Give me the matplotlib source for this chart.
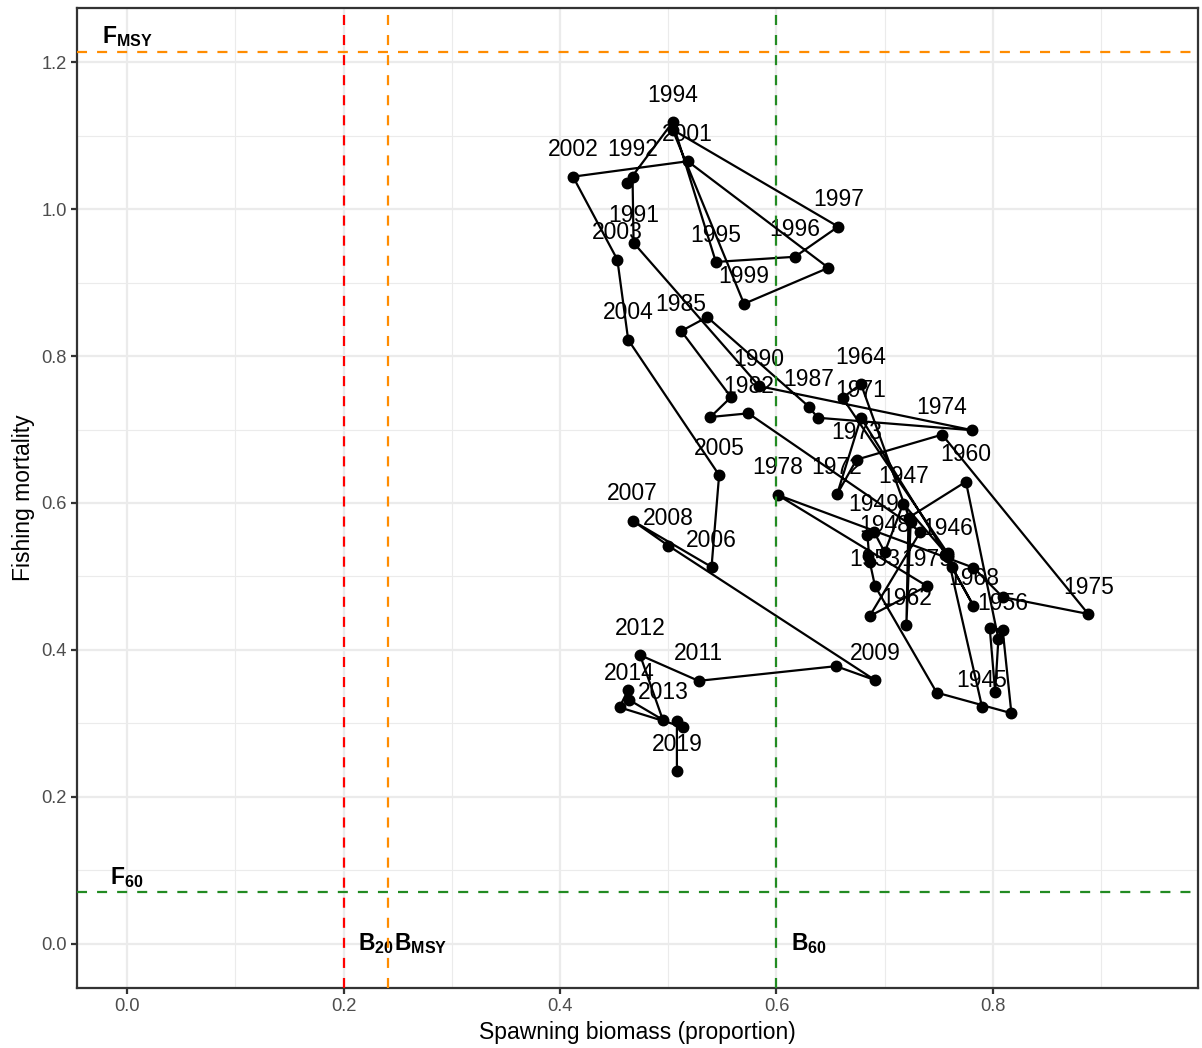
import matplotlib.pyplot as plt

# Stock trajectory: spawning biomass (proportion of unfished) vs fishing mortality
years = list(range(1945, 2020))
biomass = [
    0.790, 0.758, 0.717, 0.700, 0.690, 0.684, 0.686, 0.685, 0.691, 0.748,  # 1945-1954
    0.817, 0.809, 0.797, 0.802, 0.805, 0.775, 0.722, 0.720, 0.724, 0.678,  # 1955-1964
    0.661, 0.758, 0.756, 0.782, 0.762, 0.758, 0.678, 0.656, 0.674, 0.753,  # 1965-1974
    0.888, 0.809, 0.782, 0.601, 0.739, 0.686, 0.733, 0.574, 0.539, 0.558,  # 1975-1984
    0.512, 0.536, 0.630, 0.638, 0.781, 0.584, 0.468, 0.467, 0.462, 0.504,  # 1985-1994
    0.544, 0.617, 0.657, 0.504, 0.570, 0.648, 0.518, 0.412, 0.453, 0.463,  # 1995-2004
    0.547, 0.540, 0.467, 0.500, 0.691, 0.655, 0.528, 0.474, 0.495, 0.464,  # 2005-2014
    0.463, 0.455, 0.514, 0.508, 0.508,                                      # 2015-2019
]
fmort = [
    0.322, 0.529, 0.599, 0.533, 0.561, 0.557, 0.520, 0.528, 0.487, 0.342,
    0.314, 0.427, 0.430, 0.343, 0.415, 0.629, 0.580, 0.434, 0.574, 0.762,
    0.743, 0.532, 0.529, 0.460, 0.513, 0.527, 0.716, 0.612, 0.659, 0.693,
    0.449, 0.472, 0.512, 0.611, 0.487, 0.446, 0.561, 0.722, 0.717, 0.744,
    0.834, 0.853, 0.731, 0.716, 0.699, 0.759, 0.954, 1.044, 1.035, 1.118,
    0.928, 0.935, 0.976, 1.108, 0.871, 0.920, 1.065, 1.044, 0.931, 0.822,
    0.638, 0.513, 0.576, 0.542, 0.359, 0.378, 0.358, 0.393, 0.305, 0.332,
    0.346, 0.322, 0.295, 0.303, 0.235,
]
# years whose labels are printed (the rest would overlap earlier labels)
labelled_years = [
    1945, 1946, 1947, 1948, 1949, 1953, 1956, 1960, 1962, 1964, 1968,
    1971, 1972, 1973, 1974, 1975, 1978, 1979, 1982, 1985, 1987, 1990,
    1991, 1992, 1994, 1995, 1996, 1997, 1999, 2001, 2002, 2003, 2004,
    2005, 2006, 2007, 2008, 2009, 2011, 2012, 2013, 2014, 2019,
]

# reference points
F_MSY = 1.214
F_60 = 0.071
B_20 = 0.2
B_MSY = 0.241
B_60 = 0.6

plt.rcParams['font.family'] = 'Liberation Sans'
plt.rcParams['mathtext.fontset'] = 'custom'
plt.rcParams['mathtext.rm'] = 'Liberation Sans'
plt.rcParams['mathtext.bf'] = 'Liberation Sans:bold'

fig = plt.figure(figsize=(1202 / 150, 1048 / 150), dpi=150)
ax = fig.add_axes([77 / 1202, 60 / 1048, 1121 / 1202, 980 / 1048])

ax.set_xlim(-0.0462, 0.9894)
ax.set_ylim(-0.0599, 1.2735)
ax.set_xticks([0.0, 0.2, 0.4, 0.6, 0.8])
ax.set_xticks([0.1, 0.3, 0.5, 0.7, 0.9], minor=True)
ax.set_yticks([0.0, 0.2, 0.4, 0.6, 0.8, 1.0, 1.2])
ax.set_yticks([0.1, 0.3, 0.5, 0.7, 0.9, 1.1], minor=True)
ax.set_xticklabels(['0.0', '0.2', '0.4', '0.6', '0.8'])
ax.set_yticklabels(['0.0', '0.2', '0.4', '0.6', '0.8', '1.0', '1.2'])

ax.grid(which='major', color='#EBEBEB', linewidth=1.07, zorder=0)
ax.grid(which='minor', color='#EBEBEB', linewidth=0.53, zorder=0)
ax.set_axisbelow(True)
for side in ax.spines.values():
    side.set_color('#333333')
    side.set_linewidth(1.07)
ax.tick_params(which='major', length=2.75, width=1.07, color='#333333',
               labelcolor='#4D4D4D', labelsize=8.8, pad=2.2)
ax.tick_params(which='minor', length=0)

# trajectory
ax.plot(biomass, fmort, color='black', linewidth=1.07, zorder=2)
ax.plot(biomass, fmort, linestyle='none', marker='o', markersize=4.7,
        color='black', zorder=3)
for yr, b, f in zip(years, biomass, fmort):
    if yr in labelled_years:
        ax.annotate(str(yr), (b, f), xytext=(0, 9.8), textcoords='offset points',
                    ha='center', va='baseline', fontsize=11, color='black', zorder=4)

# reference lines
dash = (0, (4.5, 4.5))
ax.axvline(B_20, color='red', linestyle=dash, linewidth=1.07, zorder=5)
ax.axvline(B_MSY, color='darkorange', linestyle=dash, linewidth=1.07, zorder=5)
ax.axvline(B_60, color='forestgreen', linestyle=dash, linewidth=1.07, zorder=5)
ax.axhline(F_MSY, color='darkorange', linestyle=dash, linewidth=1.07, zorder=5)
ax.axhline(F_60, color='forestgreen', linestyle=dash, linewidth=1.07, zorder=5)

ax.text(0.0, F_MSY + 0.02, r'$\mathbf{F_{MSY}}$', ha='center', va='center', fontsize=11)
ax.text(0.0, F_60 + 0.02, r'$\mathbf{F_{60}}$', ha='center', va='center', fontsize=11)
ax.text(B_20 + 0.03, 0.0, r'$\mathbf{B_{20}}$', ha='center', va='center', fontsize=11)
ax.text(B_MSY + 0.03, 0.0, r'$\mathbf{B_{MSY}}$', ha='center', va='center', fontsize=11)
ax.text(B_60 + 0.03, 0.0, r'$\mathbf{B_{60}}$', ha='center', va='center', fontsize=11)

ax.set_xlabel('Spawning biomass (proportion)', fontsize=11, labelpad=2.75)
ax.set_ylabel('Fishing mortality', fontsize=11, labelpad=2.75)

fig.savefig('out.png', dpi=150)
